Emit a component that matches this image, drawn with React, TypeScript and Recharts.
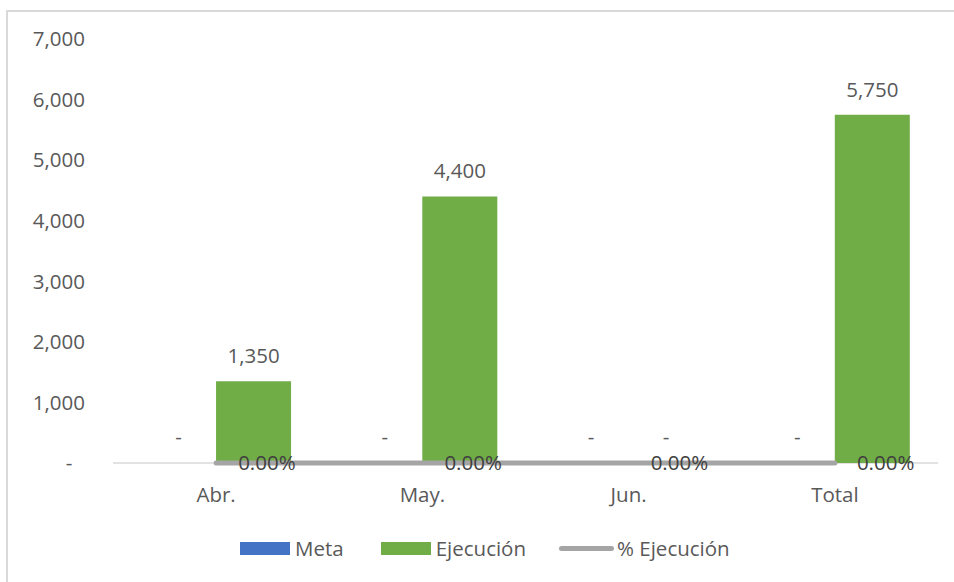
import { ComposedChart, Bar, Line, XAxis, YAxis, Legend, LabelList, Cell, CartesianGrid } from 'recharts';

const categories = ['Abr.', 'May.', 'Jun.', 'Total'];
const meta = [0, 0, 0, 0];
const ejecucion = [1350, 4400, 0, 5750];
const pctEjecucion = [0, 0, 0, 0];
const yTicks = [0, 1000, 2000, 3000, 4000, 5000, 6000, 7000];

const data = categories.map((name, i) => ({
  name,
  meta: meta[i],
  ejecucion: ejecucion[i],
  pct: pctEjecucion[i],
}));

const FONT = '"Open Sans", sans-serif';
const FS = 20.5;
const TEXT = '#595959';
const BLUE = '#4472C4';
const GREEN = '#70AD47';
const GRAY = '#A5A5A5';

const fmt = (v: number) => (v === 0 ? '-' : v.toLocaleString('en-US'));

const YTick = (props: any) => {
  const { y, payload } = props;
  const zero = payload.value === 0;
  return (
    <text
      x={zero ? 69 : 85}
      y={y}
      dy="0.355em"
      textAnchor={zero ? 'middle' : 'end'}
      fill={TEXT}
      fontFamily={FONT}
      fontSize={FS}
    >
      {fmt(payload.value)}
    </text>
  );
};

const XTick = (props: any) => {
  const { x, y, payload } = props;
  return (
    <text x={x} y={y + 39} textAnchor="middle" fill={TEXT} fontFamily={FONT} fontSize={FS}>
      {payload.value}
    </text>
  );
};

const BarLabel = (props: any) => {
  const { x, y, width, value } = props;
  return (
    <text x={x + width / 2} y={y - 18} textAnchor="middle" fill={TEXT} fontFamily={FONT} fontSize={FS}>
      {fmt(value)}
    </text>
  );
};

const PctLabel = (props: any) => {
  const { x, y, value } = props;
  return (
    <text x={x + 22} y={y} dy="0.355em" textAnchor="start" fill="#404040" fontFamily={FONT} fontSize={FS}>
      {(value * 100).toFixed(2)}%
    </text>
  );
};

const LegendContent = () => (
  <div
    style={{
      display: 'flex',
      justifyContent: 'flex-start',
      alignItems: 'center',
      fontFamily: FONT,
      fontSize: FS,
      color: TEXT,
      paddingLeft: 240,
    }}
  >
    <span style={{ width: 50, height: 13, background: BLUE, marginRight: 5 }} />
    <span style={{ marginRight: 37 }}>Meta</span>
    <span style={{ width: 50, height: 13, background: GREEN, marginRight: 5 }} />
    <span style={{ marginRight: 33 }}>Ejecución</span>
    <span style={{ width: 55, height: 5, borderRadius: 3, background: GRAY, marginRight: 3 }} />
    <span>% Ejecución</span>
  </div>
);

const App = () => {
  return (
    <div style={{ position: 'absolute', left: 0, top: 0, width: 954, height: 582, overflow: 'hidden', background: '#fff' }}>
      <div
        style={{
          position: 'absolute',
          left: 6,
          top: 10,
          width: 1000,
          height: 700,
          borderLeft: '2px solid #D9D9D9',
          borderTop: '2px solid #D9D9D9',
        }}
      />
      <div style={{ position: 'absolute', left: 0, top: 0 }}>
        <ComposedChart
          width={954}
          height={582}
          data={data}
          margin={{ top: 39, right: 16, bottom: 79, left: 0 }}
          barCategoryGap="13.6%"
          barGap={0}
        >
          {/* horizontal axis line at zero, kept under the series */}
          <CartesianGrid
            yAxisId="pct"
            vertical={false}
            horizontalValues={[0]}
            stroke="#D9D9D9"
            strokeWidth={1.5}
          />
          <XAxis
            dataKey="name"
            axisLine={false}
            tickLine={false}
            tickSize={0}
            tickMargin={0}
            height={40}
            tick={<XTick />}
          />
          <YAxis
            yAxisId="left"
            width={113}
            domain={[0, 7000]}
            ticks={yTicks}
            axisLine={false}
            tickLine={false}
            tick={<YTick />}
          />
          <YAxis yAxisId="pct" orientation="right" domain={[0, 1]} ticks={[0]} hide />
          <Legend verticalAlign="middle" align="center" wrapperStyle={{ top: 534, left: 0, width: 954 }} content={<LegendContent />} />
          <Bar yAxisId="left" dataKey="meta" name="Meta" fill={BLUE} minPointSize={1} isAnimationActive={false}>
            {meta.map((v, i) => (
              <Cell key={i} fill={v === 0 ? 'transparent' : BLUE} />
            ))}
            <LabelList dataKey="meta" content={<BarLabel />} />
          </Bar>
          <Bar yAxisId="left" dataKey="ejecucion" name="Ejecución" fill={GREEN} minPointSize={1} isAnimationActive={false}>
            {ejecucion.map((v, i) => (
              <Cell key={i} fill={v === 0 ? 'transparent' : GREEN} />
            ))}
            <LabelList dataKey="ejecucion" content={<BarLabel />} />
          </Bar>
          <Line
            yAxisId="pct"
            dataKey="pct"
            name="% Ejecución"
            stroke={GRAY}
            strokeWidth={5}
            strokeLinecap="round"
            dot={false}
            isAnimationActive={false}
          >
            <LabelList dataKey="pct" content={<PctLabel />} />
          </Line>
        </ComposedChart>
      </div>
    </div>
  );
};

export default App;
